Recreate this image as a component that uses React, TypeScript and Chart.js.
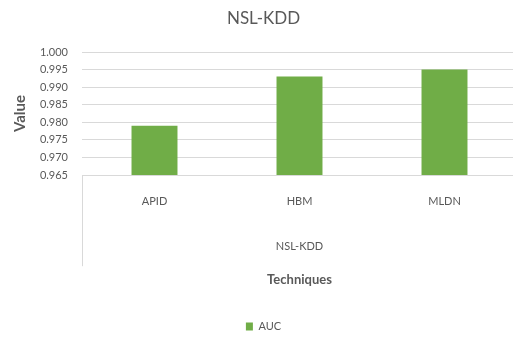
import React, { useEffect, useRef } from "react";
import { Chart, registerables } from "chart.js";

Chart.register(...registerables);

// Chart content
const TITLE = "NSL-KDD";
const GROUP_LABEL = "NSL-KDD";
const CATEGORIES = ["APID", "HBM", "MLDN"];
const SERIES_NAME = "AUC";
const AUC_VALUES = [0.979, 0.993, 0.995];
const Y_MIN = 0.965;
const Y_MAX = 1.0;
const Y_STEP = 0.005;
const X_TITLE = "Techniques";
const Y_TITLE = "Value";

const TEXT = "#595959";
const GRID = "#D9D9D9";
const BAR = "#70AD47";
const FONT = "Lato, 'Open Sans', sans-serif";

// Draws the separator lines that frame the category group below the axis
const groupFramePlugin = {
  id: "groupFrame",
  afterDraw(chart: any) {
    const { ctx, chartArea } = chart;
    const x2 = chart.scales.x2;
    const yEnd = x2.top + 38;
    ctx.save();
    ctx.strokeStyle = GRID;
    ctx.lineWidth = 1;
    ctx.beginPath();
    for (const x of [chartArea.left, chartArea.right]) {
      const px = Math.round(x) + 0.5;
      ctx.moveTo(px, chartArea.bottom);
      ctx.lineTo(px, yEnd);
    }
    ctx.stroke();
    ctx.restore();
  },
};

export default function App() {
  const ref = useRef<HTMLCanvasElement>(null);

  useEffect(() => {
    const canvas = ref.current;
    if (!canvas) return;
    const chart = new Chart(canvas, {
      type: "bar",
      data: {
        labels: CATEGORIES,
        datasets: [
          {
            label: SERIES_NAME,
            data: AUC_VALUES,
            backgroundColor: BAR,
            borderWidth: 0,
            categoryPercentage: 1,
            barPercentage: 0.317,
            xAxisID: "x",
            yAxisID: "y",
          },
        ],
      },
      options: {
        animation: false,
        responsive: false,
        devicePixelRatio: 1,
        layout: { padding: { left: 0, right: 0, top: 0, bottom: 0 } },
        plugins: {
          tooltip: { enabled: false },
          title: {
            display: true,
            text: TITLE,
            color: TEXT,
            font: { family: FONT, size: 17, weight: "normal" },
            padding: { top: 8, bottom: 23.6 },
          },
          legend: {
            display: true,
            position: "bottom",
            labels: {
              color: TEXT,
              font: { family: FONT, size: 11 },
              boxWidth: 7,
              boxHeight: 8,
              padding: 3,
            },
          },
        },
        scales: {
          x: {
            type: "category",
            position: "bottom",
            weight: 0,
            grid: { display: false, drawTicks: false },
            border: { display: true, color: GRID, width: 1 },
            ticks: {
              color: TEXT,
              font: { family: FONT, size: 11 },
              padding: 20,
              maxRotation: 0,
            },
          },
          x2: {
            type: "category",
            position: "bottom",
            weight: 1,
            labels: [GROUP_LABEL],
            grid: { display: false, drawTicks: false },
            border: { display: false },
            ticks: {
              color: TEXT,
              font: { family: FONT, size: 11 },
              padding: 12,
              maxRotation: 0,
            },
            title: {
              display: true,
              text: X_TITLE,
              color: TEXT,
              font: { family: FONT, size: 13, weight: "bold" },
              padding: { top: 6.8, bottom: 30.2 },
            },
          },
          y: {
            type: "linear",
            position: "left",
            min: Y_MIN,
            max: Y_MAX,
            grid: { color: GRID, lineWidth: 1, drawTicks: false },
            border: { display: false },
            ticks: {
              stepSize: Y_STEP,
              color: TEXT,
              font: { family: FONT, size: 11 },
              padding: 14,
              callback: (v: any) => Number(v).toFixed(3),
            },
            title: {
              display: true,
              text: Y_TITLE,
              color: TEXT,
              font: { family: FONT, size: 15, weight: "bold" },
              padding: { top: 11, bottom: 0 },
            },
            afterFit: (s: any) => {
              s.width = 82;
            },
          },
          yRight: {
            type: "linear",
            position: "right",
            display: true,
            grid: { display: false, drawTicks: false },
            border: { display: false },
            ticks: { display: false },
            afterFit: (s: any) => {
              s.width = 10;
            },
          },
        },
      },
      plugins: [groupFramePlugin],
    });
    return () => chart.destroy();
  }, []);

  return (
    <div
      style={{
        position: "fixed",
        left: 0,
        top: 0,
        width: 513,
        height: 337,
        overflow: "hidden",
        background: "#fff",
      }}
    >
      <canvas ref={ref} width={527} height={342} style={{ display: "block" }} />
    </div>
  );
}
